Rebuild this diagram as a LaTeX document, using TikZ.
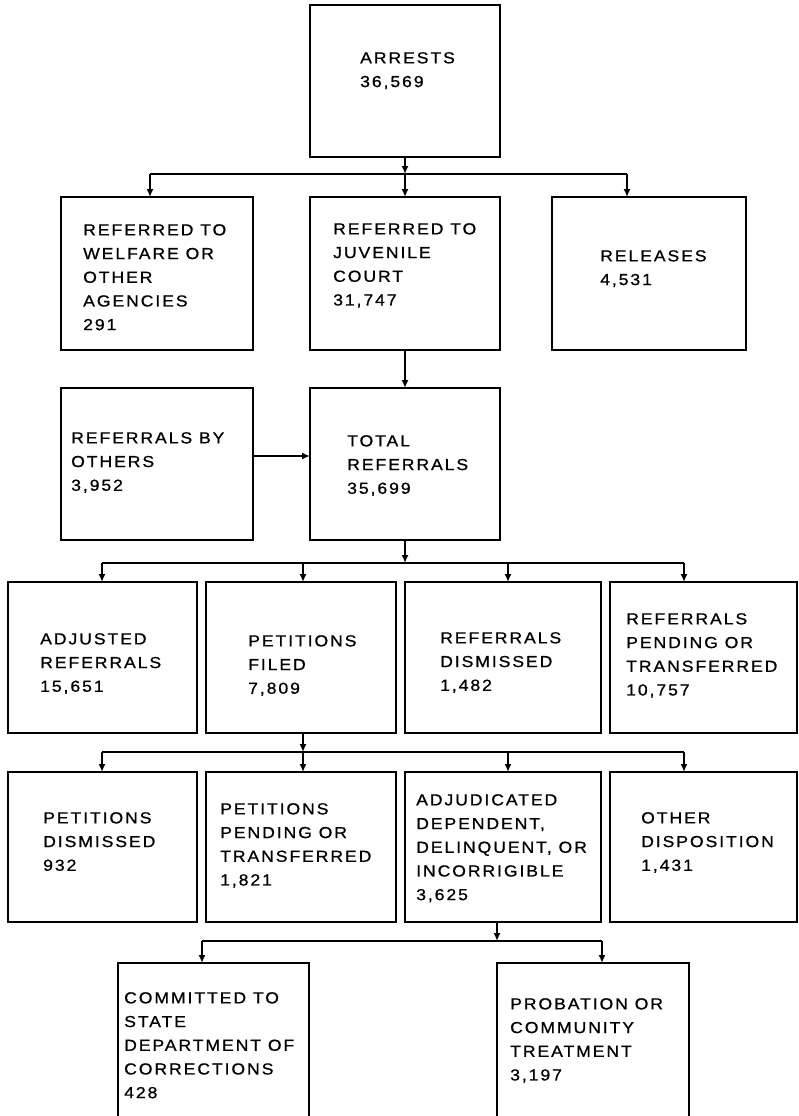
\documentclass[tikz,border=0pt]{standalone}
\usepackage{fontspec}
\usetikzlibrary{arrows.meta}
\newfontfamily\chartfont{Liberation Sans}[FakeStretch=1.1,LetterSpace=12,FakeBold=0.8]
\newcommand\flowbox[6][box]{\node[#1, minimum width={(#5)-(#3)}, minimum height={(#6)-(#4)}] (#2) at ({((#3)+(#5))/2},{((#4)+(#6))/2}) {};}
\newcommand\flowtext[4]{\node[txt] (#1) at (#2,#3) {#4};}
\begin{document}
\begin{tikzpicture}[x=1pt,y=-1pt,
  box/.style={draw=black, line width=1.8pt, inner sep=0pt, outer sep=0pt},
  openbox/.style={draw=none, inner sep=0pt, outer sep=0pt},
  txt/.style={anchor=north west, inner sep=0pt, align=left, text=black,
    font=\chartfont\fontsize{16}{23.7}\selectfont},
  conn/.style={draw=black, line width=1.8pt},
  arr/.style={conn, -{Latex[length=8pt,width=7pt]}}]
\useasboundingbox (0,0) rectangle (798,1116);
\fill[white] (0,0) rectangle (798,1116);
% boxes
\flowbox{arrests}{310}{5}{500}{157}
\flowbox{welfare}{61}{197}{253}{350}
\flowbox{juvenile}{310}{197}{500}{350}
\flowbox{releases}{552}{197}{746}{350}
\flowbox{others}{61}{388}{253}{540}
\flowbox{total}{310}{388}{500}{540}
\flowbox{adjusted}{8}{582}{197}{733}
\flowbox{petfiled}{206}{582}{396}{733}
\flowbox{refdism}{405}{582}{601}{733}
\flowbox{refpend}{610}{582}{797}{733}
\flowbox{petdism}{8}{772}{197}{922}
\flowbox{petpend}{206}{772}{396}{922}
\flowbox{adjud}{405}{772}{601}{922}
\flowbox{otherdisp}{610}{772}{797}{922}
\flowbox[openbox]{committed}{118}{963}{309}{1116}
\flowbox[openbox]{probation}{497}{963}{689}{1116}
\draw[conn] (committed.south west) -- (committed.north west) -- (committed.north east) -- (committed.south east);
\draw[conn] (probation.south west) -- (probation.north west) -- (probation.north east) -- (probation.south east);
% texts
\flowtext{arrests-t}{360}{52}{ARRESTS\\36,569}
\flowtext{welfare-t}{83}{224}{REFERRED TO\\WELFARE OR\\OTHER\\AGENCIES\\291}
\flowtext{juvenile-t}{333}{223}{REFERRED TO\\JUVENILE\\COURT\\31,747}
\flowtext{releases-t}{600}{250}{RELEASES\\4,531}
\flowtext{others-t}{71}{432}{REFERRALS BY\\OTHERS\\3,952}
\flowtext{total-t}{347}{435}{TOTAL\\REFERRALS\\35,699}
\flowtext{adjusted-t}{40}{633}{ADJUSTED\\REFERRALS\\15,651}
\flowtext{petfiled-t}{248}{635}{PETITIONS\\FILED\\7,809}
\flowtext{refdism-t}{440}{632}{REFERRALS\\DISMISSED\\1,482}
\flowtext{refpend-t}{626}{613}{REFERRALS\\PENDING OR\\TRANSFERRED\\10,757}
\flowtext{petdism-t}{43}{812}{PETITIONS\\DISMISSED\\932}
\flowtext{petpend-t}{220}{803}{PETITIONS\\PENDING OR\\TRANSFERRED\\1,821}
\flowtext{adjud-t}{416}{794}{ADJUDICATED\\DEPENDENT,\\DELINQUENT, OR\\INCORRIGIBLE\\3,625}
\flowtext{otherdisp-t}{641}{812}{OTHER\\DISPOSITION\\1,431}
\flowtext{committed-t}{124}{992}{COMMITTED TO\\STATE\\DEPARTMENT OF\\CORRECTIONS\\428}
\flowtext{probation-t}{510}{998}{PROBATION OR\\COMMUNITY\\TREATMENT\\3,197}
% level 1 connectors
\coordinate (j1) at (405,174);
\coordinate (l1a) at (150,174);
\coordinate (l1c) at (627,174);
\draw[arr] (arrests.south) -- (j1);
\draw[conn] (l1a) -- (l1c);
\draw[arr] (l1a) -- (l1a |- welfare.north);
\draw[arr] (j1) -- (juvenile.north);
\draw[arr] (l1c) -- (l1c |- releases.north);
% juvenile -> total, others -> total
\draw[arr] (juvenile.south) -- (total.north);
\draw[arr] ([yshift=8pt]others.east) -- ([yshift=8pt]total.west);
% level 3
\coordinate (j3) at (405,563);
\coordinate (l3a) at (102,563);
\coordinate (l3b) at (303,563);
\coordinate (l3c) at (508,563);
\coordinate (l3d) at (684,563);
\draw[arr] (total.south) -- (j3);
\draw[conn] (l3a) -- (l3d);
\draw[arr] (l3a) -- (l3a |- adjusted.north);
\draw[arr] (l3b) -- (l3b |- petfiled.north);
\draw[arr] (l3c) -- (l3c |- refdism.north);
\draw[arr] (l3d) -- (l3d |- refpend.north);
% level 4
\coordinate (l4a) at (102,752);
\coordinate (l4b) at (303,752);
\coordinate (l4c) at (508,752);
\coordinate (l4d) at (684,752);
\draw[arr] (l4b |- petfiled.south) -- (l4b);
\draw[conn] (l4a) -- (l4d);
\draw[arr] (l4a) -- (l4a |- petdism.north);
\draw[arr] (l4b) -- (l4b |- petpend.north);
\draw[arr] (l4c) -- (l4c |- adjud.north);
\draw[arr] (l4d) -- (l4d |- otherdisp.north);
% level 5
\coordinate (j5) at (497,941);
\coordinate (l5a) at (202,941);
\coordinate (l5b) at (602,941);
\draw[arr] (j5 |- adjud.south) -- (j5);
\draw[conn] (l5a) -- (l5b);
\draw[arr] (l5a) -- (l5a |- committed.north);
\draw[arr] (l5b) -- (l5b |- probation.north);
\end{tikzpicture}
\end{document}
